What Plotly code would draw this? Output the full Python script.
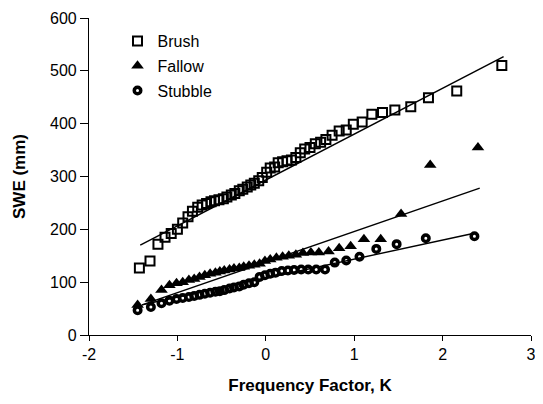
import plotly.graph_objects as go

# ---- data ----
brush_k = [2.67, 2.16, 1.84, 1.64, 1.46, 1.32, 1.20, 1.09, 0.99, 0.91, 0.83, 0.75, 0.68,
           0.62, 0.56, 0.50, 0.44, 0.39, 0.34, 0.29, 0.24, 0.19, 0.14, 0.10, 0.05, 0.01,
           -0.04, -0.08, -0.13, -0.17, -0.21, -0.26, -0.30, -0.35, -0.39, -0.44, -0.48,
           -0.53, -0.58, -0.62, -0.67, -0.72, -0.77, -0.83, -0.88, -0.94, -1.00, -1.07,
           -1.14, -1.22, -1.31, -1.43]
brush_swe = [510, 462, 449, 432, 426, 421, 418, 403, 399, 388, 386, 378, 370,
             365, 362, 355, 352, 345, 336, 331, 330, 328, 326, 318, 316, 308,
             298, 292, 287, 284, 280, 276, 273, 268, 265, 261, 258,
             256, 254, 252, 249, 246, 242, 234, 224, 212, 200, 192,
             185, 172, 140, 127]

fallow_k = [2.40, 1.86, 1.53, 1.30, 1.11, 0.96, 0.83, 0.71, 0.60, 0.51, 0.42, 0.34, 0.26,
            0.19, 0.12, 0.05, -0.01, -0.07, -0.13, -0.19, -0.25, -0.30, -0.36, -0.41,
            -0.47, -0.52, -0.57, -0.63, -0.69, -0.75, -0.81, -0.87, -0.94, -1.01, -1.09,
            -1.18, -1.30, -1.45]
fallow_swe = [355, 322, 229, 181, 181, 168, 164, 158, 156, 156, 155, 152, 150,
              148, 146, 143, 140, 135, 133, 131, 129, 127, 126, 124,
              122, 120, 118, 116, 113, 110, 106, 104, 100, 98, 94,
              85, 68, 57]

stubble_k = [2.36, 1.81, 1.48, 1.25, 1.06, 0.91, 0.78, 0.67, 0.57, 0.48, 0.40, 0.32, 0.25,
             0.18, 0.11, 0.05, -0.01, -0.07, -0.13, -0.19, -0.25, -0.30, -0.36, -0.41,
             -0.47, -0.52, -0.57, -0.63, -0.69, -0.75, -0.81, -0.87, -0.94, -1.01, -1.09,
             -1.18, -1.30, -1.45]
stubble_swe = [187, 183, 172, 163, 148, 141, 137, 124, 124, 124, 124, 123, 122,
               121, 118, 116, 113, 110, 100, 98, 95, 92, 90, 88,
               85, 83, 82, 80, 78, 76, 74, 72, 70, 68, 65,
               60, 53, 47]

# fitted lines (end points)
brush_fit_k = [-1.42, 2.69]
brush_fit = [170, 527]
fallow_fit_k = [-1.40, 2.42]
fallow_fit = [57, 278]
stubble_fit_k = [-1.40, 2.37]
stubble_fit = [57, 193]

x_ticks = [-2, -1, 0, 1, 2, 3]
x_tick_labels = ["-2", "-1", "0", "1", "2", "3"]
y_ticks = [0, 100, 200, 300, 400, 500, 600]
y_tick_labels = ["0", "100", "200", "300", "400", "500", "600"]

FONT = "Arial, Liberation Sans, sans-serif"

fig = go.Figure()

line_style = dict(color="black", width=1.4)
for k, v in [(brush_fit_k, brush_fit), (fallow_fit_k, fallow_fit), (stubble_fit_k, stubble_fit)]:
    fig.add_trace(go.Scatter(x=k, y=v, mode="lines", line=line_style,
                             showlegend=False, hoverinfo="skip"))

fig.add_trace(go.Scatter(x=brush_k, y=brush_swe, mode="markers", name="Brush",
                         legendgroup="b",
                         marker=dict(symbol="square-open", size=9, color="black",
                                     line=dict(width=2, color="black"))))
fig.add_trace(go.Scatter(x=fallow_k, y=fallow_swe, mode="markers", name="Fallow",
                         legendgroup="f",
                         marker=dict(symbol="triangle-up", size=11, color="black")))
fig.add_trace(go.Scatter(x=stubble_k, y=stubble_swe, mode="markers", name="Stubble",
                         legendgroup="s",
                         marker=dict(symbol="circle-open", size=6.5, color="black",
                                     line=dict(width=3.5, color="black"))))

axis_common = dict(showline=True, linecolor="black", linewidth=1.2, ticks="outside",
                   tickcolor="black", showgrid=False, zeroline=False, automargin=False,
                   ticklabeloverflow="allow",
                   tickfont=dict(family=FONT, size=16, color="black"))

# page body adds an 8px margin: size the figure so the page fits the window exactly
fig.update_layout(
    width=527, height=388,
    margin=dict(l=81, r=4, t=10, b=61),
    paper_bgcolor="white", plot_bgcolor="white",
    font=dict(family=FONT, color="black"),
    xaxis=dict(range=[-2, 3], tickvals=x_ticks, ticktext=x_tick_labels, ticklen=5,
               title=dict(text="<b>Frequency Factor, K</b>", font=dict(size=17, family=FONT),
                          standoff=16),
               **axis_common),
    yaxis=dict(range=[0, 600], tickvals=y_ticks, ticktext=y_tick_labels, ticklen=8,
               title=dict(text="<b>SWE (mm)</b>", font=dict(size=17, family=FONT),
                          standoff=20),
               **axis_common),
    legend=dict(x=0.0645, y=0.981, xanchor="left", yanchor="top",
                font=dict(size=16, family=FONT), tracegroupgap=1,
                bgcolor="rgba(0,0,0,0)"),
)

fig.write_html("out.html")
